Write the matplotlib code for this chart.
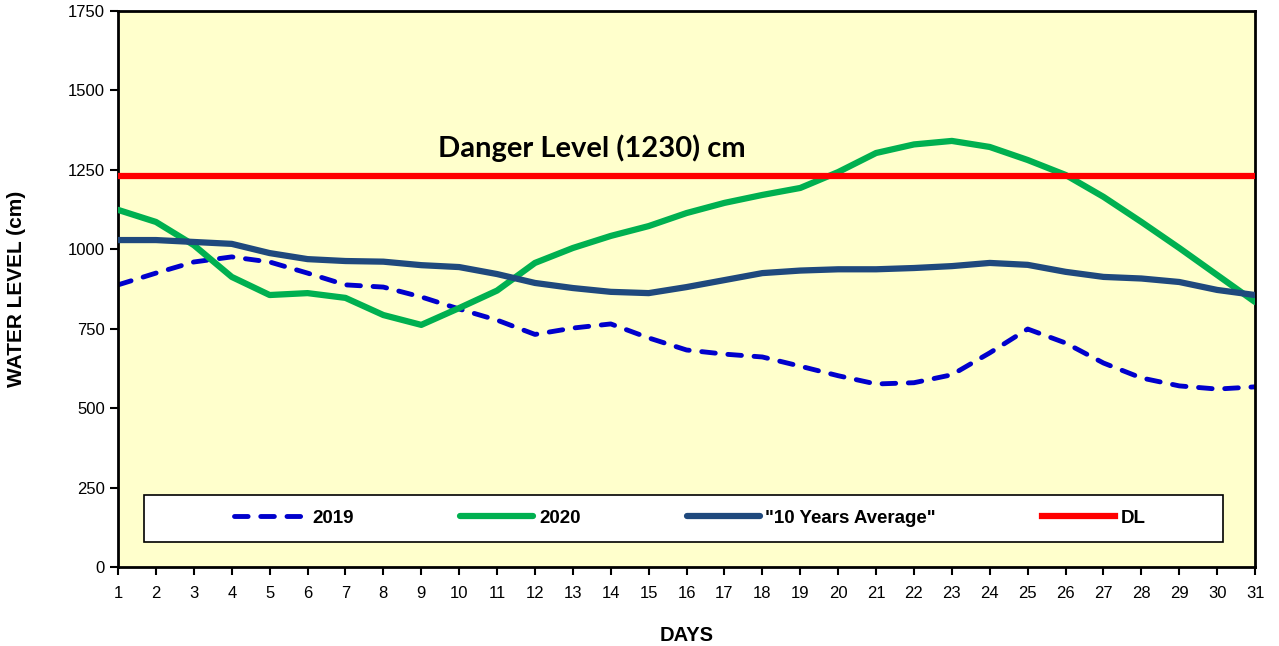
import numpy as np
import matplotlib
matplotlib.use('Agg')
import matplotlib.pyplot as plt
from matplotlib.patches import Rectangle

# Data
days = list(range(1, 32))
level_2019 = [888, 925, 960, 976, 960, 925, 888, 881, 850, 812,
              777, 732, 752, 765, 721, 683, 670, 661, 632, 602,
              576, 580, 605, 674, 749, 705, 642, 595, 570, 560, 567]
level_2020 = [1124, 1086, 1013, 913, 856, 862, 847, 793, 762, 815,
              870, 957, 1004, 1042, 1073, 1114, 1146, 1171, 1193, 1243,
              1303, 1330, 1341, 1322, 1281, 1234, 1165, 1086, 1004, 919, 834]
avg_10yr = [1029, 1029, 1023, 1017, 988, 969, 963, 961, 950, 944,
            922, 894, 878, 866, 862, 881, 903, 925, 933, 937,
            937, 941, 947, 957, 951, 929, 913, 908, 897, 872, 856]
danger = [1230] * 31

tick_font = 'Liberation Sans'

fig = plt.figure(figsize=(12.79, 6.46), dpi=100)
ax = fig.add_axes([0.0923, 0.1223, 0.889, 0.8607])
ax.set_facecolor('#FFFFCC')

ax.plot(days, level_2019, color='#0000CC', lw=3.5, dashes=(2.8, 2.6),
        dash_capstyle='round', label='2019', zorder=2)
ax.plot(days, level_2020, color='#00B050', lw=4.5, label='2020',
        solid_capstyle='round', solid_joinstyle='round', zorder=3)
ax.plot(days, avg_10yr, color='#1F497D', lw=4.5, label='"10 Years Average"',
        solid_capstyle='round', solid_joinstyle='round', zorder=4)
ax.plot(days, danger, color='#FF0000', lw=4.5, label='DL', zorder=5)

ax.text(13.5, 1319, 'Danger Level (1230) cm', ha='center', va='center',
        fontsize=21, fontweight='bold', family='Lato', zorder=6)

ax.set_xlim(1, 31)
ax.set_ylim(0, 1750)
ax.set_xticks(days)
ax.set_yticks(np.arange(0, 1751, 250))
ax.tick_params(axis='both', direction='out', length=6, width=1.5,
               labelsize=12, colors='black')
ax.tick_params(axis='x', pad=8)
for lab in ax.get_xticklabels() + ax.get_yticklabels():
    lab.set_family(tick_font)
for sp in ax.spines.values():
    sp.set_linewidth(2)
    sp.set_color('black')

ax.set_xlabel('DAYS', fontsize=14.5, fontweight='bold', family=tick_font, labelpad=18)
ax.set_ylabel('WATER LEVEL (cm)', fontsize=15, fontweight='bold', family=tick_font,
              labelpad=30)

# legend box
bx0, by0, bw, bh = 0.0225, 0.0455, 0.949, 0.0845
ax.add_patch(Rectangle((bx0, by0), bw, bh, transform=ax.transAxes,
                       facecolor='white', edgecolor='black', lw=1.2, zorder=7))
leg = ax.legend(loc='center', bbox_to_anchor=(bx0 + bw / 2 + 0.006, by0 + bh / 2),
                ncol=4, frameon=False, handlelength=3.9, handletextpad=0.3,
                columnspacing=5.66, prop={'family': tick_font, 'weight': 'bold', 'size': 13.5})
leg.set_zorder(8)

fig.savefig('out.png', dpi=100, facecolor='white')
